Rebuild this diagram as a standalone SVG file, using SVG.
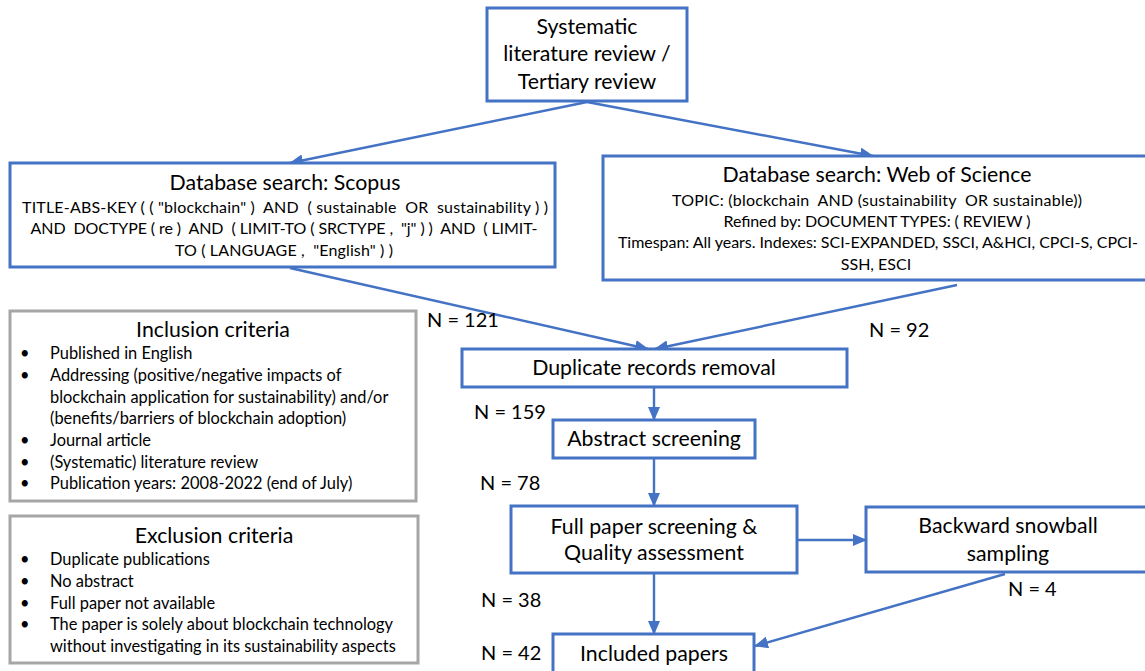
<svg xmlns="http://www.w3.org/2000/svg" width="1145" height="671" viewBox="0 0 1145 671">
<style>
text{font-family:Lato,"Liberation Sans",sans-serif;fill:#000;white-space:pre}
.box{fill:#fff;stroke:#4472C4;stroke-width:3}
.gbox{fill:#fff;stroke:#A6A6A6;stroke-width:3}
.c{text-anchor:middle}
.t21{font-size:21.3px}
.t20{font-size:20px}
.t15{font-size:16px}
.t16{font-size:16.4px}
.conn line{stroke:#4472C4;stroke-width:2.4;marker-end:url(#ah)}
</style>
<defs>
<marker id="ah" markerUnits="userSpaceOnUse" markerWidth="14" markerHeight="12" viewBox="0 0 14 12" refX="13" refY="6" orient="auto">
<path d="M0,0 L14,6 L0,12 Z" fill="#4472C4"/>
</marker>
</defs>
<g id="connectors" class="conn">
<line x1="587" y1="102" x2="290" y2="163"/>
<line x1="587" y1="102" x2="873" y2="156"/>
<line x1="290" y1="268" x2="648" y2="349"/>
<line x1="957" y1="285" x2="655" y2="349"/>
<line x1="654" y1="387" x2="654" y2="420"/>
<line x1="654" y1="458" x2="654" y2="506"/>
<line x1="797" y1="540" x2="866" y2="540"/>
<line x1="654" y1="573" x2="654" y2="634"/>
<line x1="1005" y1="574" x2="755" y2="646"/>
</g>
<g id="node-slr">
<rect class="box" x="487" y="8" width="200" height="93"/>
<text class="c t21" x="587" y="34">Systematic</text>
<text class="c t21" x="587" y="61">literature review /</text>
<text class="c t21" x="587" y="89">Tertiary review</text>
</g>
<g id="node-scopus">
<rect class="box" x="10" y="163" width="545" height="104"/>
<text class="c t21" x="285" y="190">Database search: Scopus</text>
<text class="c t15" x="285" y="213" textLength="526">TITLE-ABS-KEY ( ( "blockchain" )  AND  ( sustainable  OR  sustainability ) )</text>
<text class="c t15" x="284" y="234" textLength="507">AND  DOCTYPE ( re )  AND  ( LIMIT-TO ( SRCTYPE ,  "j" ) )  AND  ( LIMIT-</text>
<text class="c t15" x="284" y="256" textLength="218">TO ( LANGUAGE ,  "English" ) )</text>
</g>
<g id="node-wos">
<rect class="box" x="603" y="156" width="560" height="124"/>
<text class="c t21" x="877" y="182">Database search: Web of Science</text>
<text class="c t15" x="877" y="206" textLength="410">TOPIC: (blockchain  AND (sustainability  OR sustainable))</text>
<text class="c t15" x="877" y="227" textLength="307">Refined by: DOCUMENT TYPES: ( REVIEW )</text>
<text class="c t15" x="878" y="248" textLength="520">Timespan: All years. Indexes: SCI-EXPANDED, SSCI, A&amp;HCI, CPCI-S, CPCI-</text>
<text class="c t15" x="876" y="270">SSH, ESCI</text>
</g>
<g id="node-inclusion">
<rect class="gbox" x="10" y="311" width="406" height="190"/>
<text class="c t21" x="213" y="337">Inclusion criteria</text>
<g class="t16">
<text x="20" y="359">•</text><text x="50" y="359">Published in English</text>
<text x="20" y="381">•</text><text x="50" y="381">Addressing (positive/negative impacts of</text>
<text x="50" y="403">blockchain application for sustainability) and/or</text>
<text x="50" y="424">(benefits/barriers of blockchain adoption)</text>
<text x="20" y="446">•</text><text x="50" y="446">Journal article</text>
<text x="20" y="468">•</text><text x="50" y="468">(Systematic) literature review</text>
<text x="20" y="489">•</text><text x="50" y="489">Publication years: 2008-2022 (end of July)</text>
</g>
</g>
<g id="node-exclusion">
<rect class="gbox" x="10" y="516" width="408" height="147"/>
<text class="c t21" x="214" y="543">Exclusion criteria</text>
<g class="t16">
<text x="20" y="565">•</text><text x="50" y="565">Duplicate publications</text>
<text x="20" y="587">•</text><text x="50" y="587">No abstract</text>
<text x="20" y="609">•</text><text x="50" y="609">Full paper not available</text>
<text x="20" y="630">•</text><text x="50" y="630">The paper is solely about blockchain technology</text>
<text x="50" y="652">without investigating in its sustainability aspects</text>
</g>
</g>
<g id="node-duplicate">
<rect class="box" x="462" y="349" width="385" height="38"/>
<text class="c t21" x="654" y="375">Duplicate records removal</text>
</g>
<g id="node-abstract">
<rect class="box" x="553" y="420" width="202" height="38"/>
<text class="c t21" x="654" y="446">Abstract screening</text>
</g>
<g id="node-fullpaper">
<rect class="box" x="511" y="506" width="286" height="67"/>
<text class="c t21" x="654" y="534">Full paper screening &amp;</text>
<text class="c t21" x="654" y="560">Quality assessment</text>
</g>
<g id="node-snowball">
<rect class="box" x="866" y="507" width="300" height="65"/>
<text class="c t21" x="1008" y="533">Backward snowball</text>
<text class="c t21" x="1008" y="561">sampling</text>
</g>
<g id="node-included">
<rect class="box" x="553" y="634" width="201" height="50"/>
<text class="c t21" x="654" y="661">Included papers</text>
</g>
<g id="labels" class="t20">
<text x="427" y="327">N = 121</text>
<text x="869" y="337">N = 92</text>
<text x="474" y="419">N = 159</text>
<text x="480" y="490">N = 78</text>
<text x="1008" y="596">N = 4</text>
<text x="481" y="607">N = 38</text>
<text x="481" y="660">N = 42</text>
</g>
</svg>
